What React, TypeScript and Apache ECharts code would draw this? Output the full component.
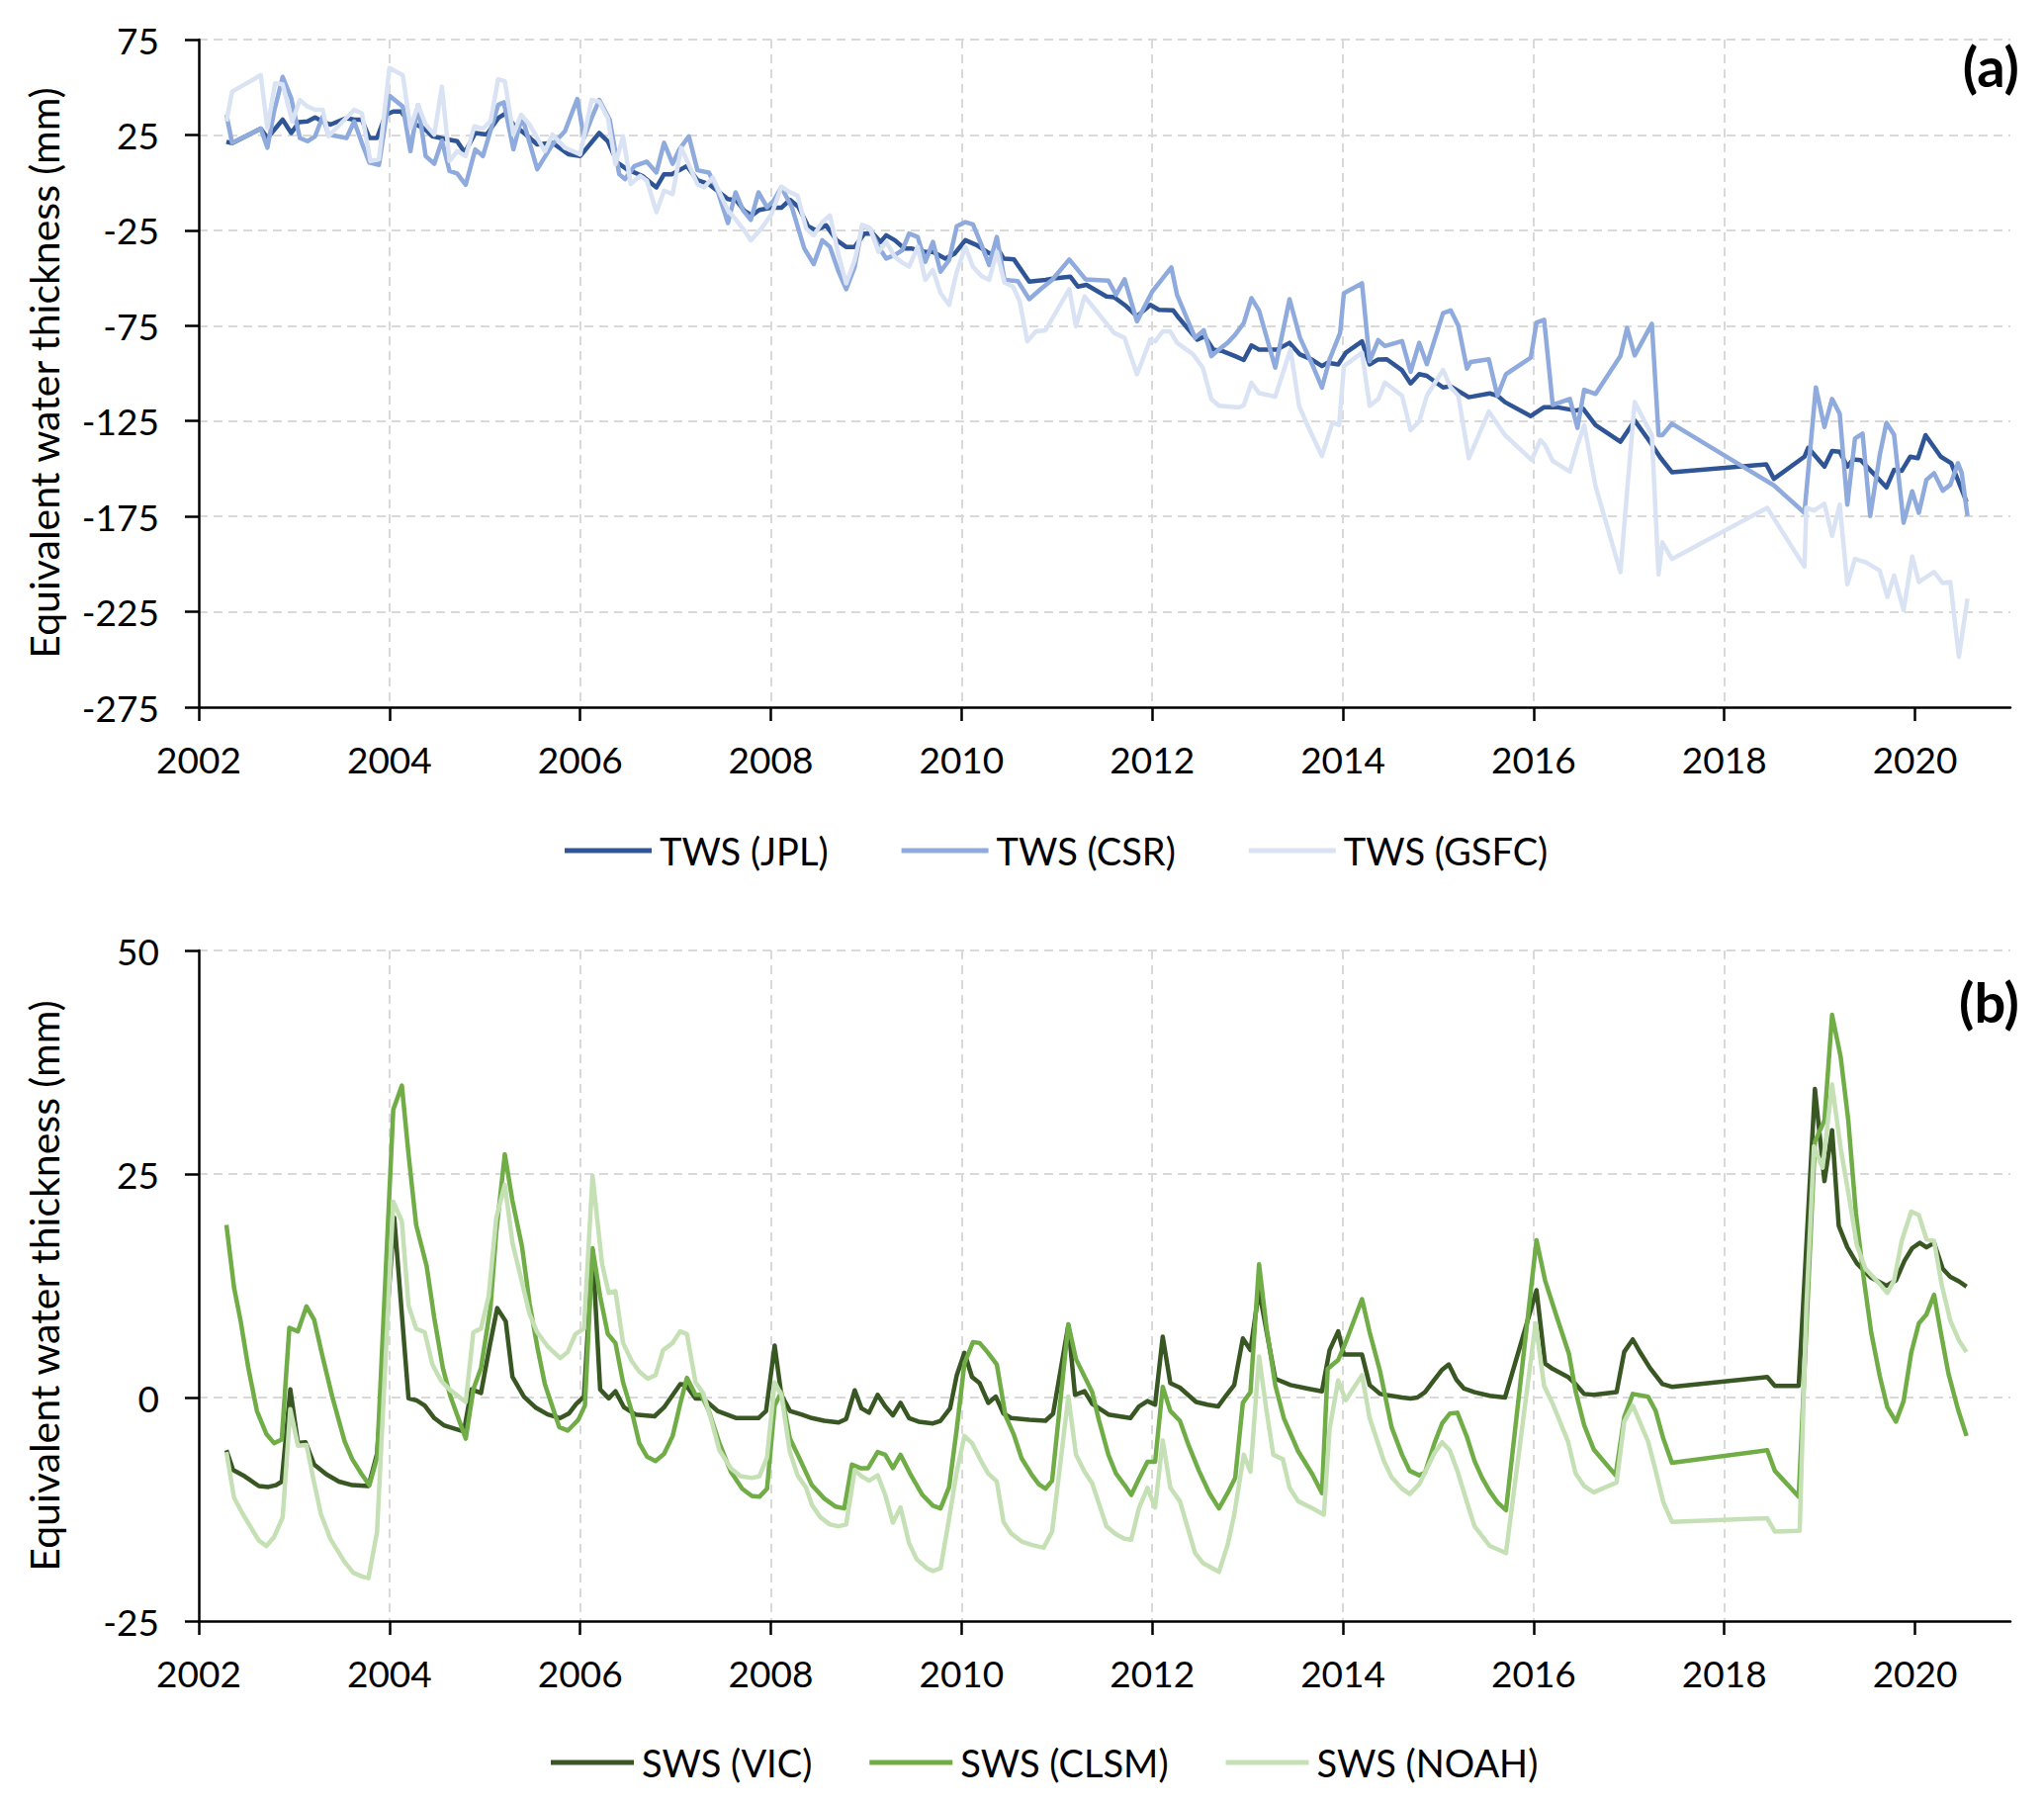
import React, { useEffect, useRef } from "react";
import * as echarts from "echarts";

type P = [number, number];

const YEAR_TICKS = [2002, 2004, 2006, 2008, 2010, 2012, 2014, 2016, 2018, 2020];
const TWS_NAMES = ["TWS (JPL)", "TWS (CSR)", "TWS (GSFC)"];
const SWS_NAMES = ["SWS (VIC)", "SWS (CLSM)", "SWS (NOAH)"];

const TWS_JPL: P[] = [
  [2002.29,21.4],[2002.35,20.7],[2002.65,28.3],[2002.72,23.4],[2002.88,33.0],[2002.97,26.0],[2003.05,31.7],[2003.14,32.1],[2003.22,34.2],[2003.30,32.1],[2003.38,30.4],[2003.55,33.8],[2003.63,33.0],[2003.71,33.0],[2003.79,23.4],[2003.87,23.4],[2003.96,35.6],[2004.04,37.3],[2004.12,37.3],[2004.20,32.1],[2004.36,28.6],[2004.45,24.3],[2004.61,22.6],[2004.71,21.7],[2004.79,15.7],[2004.90,26.0],[2005.02,25.2],[2005.14,33.8],[2005.22,36.4],[2005.30,30.4],[2005.43,25.2],[2005.55,20.0],[2005.71,20.8],[2005.88,14.8],[2006.00,13.9],[2006.20,26.0],[2006.29,21.7],[2006.39,10.5],[2006.49,7.0],[2006.65,3.6],[2006.80,-2.5],[2006.88,4.4],[2006.96,4.4],[2007.12,8.7],[2007.23,1.3],[2007.35,-0.8],[2007.55,-8.6],[2007.64,-9.4],[2007.72,-14.6],[2007.80,-17.2],[2007.88,-14.3],
  [2008.00,-13.2],[2008.11,-13.2],[2008.20,-9.0],[2008.29,-12.8],[2008.39,-22.9],[2008.47,-25.0],[2008.58,-22.4],[2008.69,-30.2],[2008.79,-33.7],[2008.88,-33.7],[2008.98,-26.7],[2009.07,-26.7],[2009.15,-31.1],[2009.21,-27.6],[2009.30,-30.2],[2009.40,-34.5],[2009.47,-34.5],[2009.62,-36.3],[2009.70,-36.3],[2009.83,-39.8],[2009.93,-37.1],[2010.04,-30.2],[2010.16,-32.8],[2010.29,-37.1],[2010.40,-36.3],[2010.44,-39.8],[2010.55,-40.3],[2010.71,-51.9],[2010.88,-51.0],[2010.97,-50.2],[2011.14,-49.3],[2011.22,-54.5],[2011.31,-53.6],[2011.52,-59.7],[2011.60,-60.1],[2011.73,-64.9],[2011.84,-70.1],[2011.98,-64.1],[2012.07,-66.7],[2012.22,-67.0],[2012.28,-71.0],[2012.47,-82.3],[2012.55,-80.6],[2012.64,-87.5],[2012.74,-88.4],[2012.87,-91.0],[2012.96,-93.0],[2013.04,-85.4],[2013.12,-87.5],[2013.31,-87.5],[2013.44,-84.0],[2013.55,-90.1],[2013.67,-92.7],[2013.78,-96.2],[2013.84,-94.4],[2013.95,-95.3],[2014.03,-89.2],[2014.20,-83.2],[2014.28,-95.3],[2014.37,-92.7],
  [2014.46,-92.6],[2014.62,-98.4],[2014.71,-105.3],[2014.80,-100.4],[2014.88,-101.3],[2015.05,-107.4],[2015.13,-106.8],[2015.32,-112.5],[2015.54,-110.5],[2015.62,-111.7],[2015.70,-115.1],[2015.97,-122.4],[2016.11,-117.7],[2016.24,-117.7],[2016.44,-119.5],[2016.52,-118.6],[2016.65,-127.2],[2016.91,-135.9],[2017.06,-124.7],[2017.22,-135.9],[2017.33,-144.2],[2017.45,-151.8],[2018.44,-147.7],[2018.52,-155.3],[2018.84,-143.7],[2018.88,-139.0],[2019.05,-148.9],[2019.13,-140.7],[2019.21,-141.1],[2019.29,-148.9],[2019.35,-145.1],[2019.43,-145.5],[2019.56,-152.3],[2019.70,-159.8],[2019.78,-150.6],[2019.86,-151.1],[2019.95,-143.7],[2020.03,-144.5],[2020.11,-132.4],[2020.27,-143.7],[2020.38,-147.1],[2020.54,-167.4],
];

const TWS_CSR: P[] = [
  [2002.29,35.6],[2002.35,20.8],[2002.65,28.3],[2002.72,18.3],[2002.79,37.3],[2002.88,55.4],[2002.97,44.2],[2003.06,23.4],[2003.14,21.7],[2003.22,24.3],[2003.30,34.7],[2003.36,25.2],[2003.55,23.4],[2003.63,32.1],[2003.71,20.9],[2003.79,10.5],[2003.89,9.3],[2004.00,45.6],[2004.14,39.9],[2004.22,16.5],[2004.30,40.7],[2004.38,13.9],[2004.47,9.9],[2004.55,22.0],[2004.63,6.1],[2004.71,4.8],[2004.80,-1.1],[2004.90,17.4],[2004.98,13.9],[2005.14,40.7],[2005.20,42.1],[2005.30,17.4],[2005.39,34.7],[2005.55,7.0],[2005.71,20.0],[2005.84,26.9],[2005.97,43.9],[2006.04,23.4],[2006.12,33.8],[2006.20,43.3],[2006.31,33.0],[2006.41,4.4],[2006.47,1.8],[2006.57,8.7],[2006.70,11.0],[2006.80,5.3],[2006.88,20.9],[2006.97,9.9],[2007.04,17.4],[2007.14,24.3],[2007.23,6.5],[2007.35,5.3],[2007.43,-2.5],[2007.55,-21.2],[2007.63,-5.1],[2007.71,-14.6],[2007.79,-19.5],[2007.87,-5.1],[2007.96,-12.9],
  [2008.03,-9.4],[2008.11,-2.4],[2008.22,-12.8],[2008.35,-34.5],[2008.45,-42.7],[2008.54,-30.2],[2008.62,-33.7],[2008.71,-46.7],[2008.79,-55.9],[2008.88,-44.1],[2008.96,-22.4],[2009.04,-24.1],[2009.13,-33.7],[2009.21,-39.8],[2009.30,-38.0],[2009.38,-35.4],[2009.45,-26.7],[2009.54,-28.5],[2009.62,-41.5],[2009.70,-31.1],[2009.78,-46.7],[2009.87,-40.6],[2009.95,-22.9],[2010.04,-20.7],[2010.12,-21.9],[2010.21,-32.8],[2010.29,-43.2],[2010.37,-28.5],[2010.45,-51.0],[2010.59,-51.6],[2010.71,-61.1],[2010.84,-55.4],[2010.95,-51.0],[2011.13,-40.3],[2011.30,-50.7],[2011.54,-51.4],[2011.62,-58.8],[2011.71,-50.7],[2011.84,-72.7],[2012.00,-57.1],[2012.11,-50.2],[2012.20,-44.4],[2012.26,-58.8],[2012.45,-81.4],[2012.54,-77.4],[2012.62,-91.0],[2012.70,-87.5],[2012.79,-84.0],[2012.87,-79.7],[2012.96,-73.6],[2013.04,-60.6],[2013.12,-67.0],[2013.29,-97.0],[2013.44,-61.1],[2013.55,-81.4],[2013.67,-94.4],[2013.78,-107.5],[2013.86,-92.7],[2013.97,-78.8],[2014.01,-58.0],[2014.20,-52.8],[2014.28,-93.6],[2014.37,-82.6],
  [2014.44,-85.7],[2014.62,-83.1],[2014.71,-99.2],[2014.80,-84.0],[2014.88,-95.2],[2015.05,-68.4],[2015.13,-67.0],[2015.21,-75.0],[2015.30,-97.5],[2015.34,-94.0],[2015.53,-92.6],[2015.62,-111.7],[2015.71,-100.4],[2015.97,-91.8],[2016.03,-73.3],[2016.11,-71.9],[2016.20,-116.5],[2016.38,-113.4],[2016.46,-128.6],[2016.53,-108.6],[2016.65,-110.8],[2016.91,-90.9],[2016.98,-76.2],[2017.06,-90.6],[2017.24,-74.0],[2017.31,-132.4],[2017.35,-132.4],[2017.45,-126.4],[2018.52,-158.7],[2018.84,-173.1],[2018.96,-107.4],[2019.05,-128.1],[2019.13,-113.4],[2019.21,-121.2],[2019.29,-168.8],[2019.37,-134.2],[2019.45,-131.6],[2019.53,-174.8],[2019.63,-142.8],[2019.70,-125.9],[2019.78,-132.1],[2019.88,-178.3],[2019.97,-161.8],[2020.04,-173.1],[2020.12,-155.8],[2020.20,-152.3],[2020.29,-161.5],[2020.37,-158.4],[2020.45,-147.1],[2020.49,-152.3],[2020.55,-174.8],
];

const TWS_GSFC: P[] = [
  [2002.29,32.1],[2002.35,47.7],[2002.65,56.3],[2002.72,28.6],[2002.80,52.0],[2002.88,51.5],[2002.98,32.1],[2003.06,43.3],[2003.14,39.9],[2003.22,38.2],[2003.30,38.2],[2003.36,24.3],[2003.63,38.2],[2003.71,36.4],[2003.80,11.3],[2003.89,12.2],[2004.00,60.1],[2004.14,56.3],[2004.22,28.6],[2004.30,40.7],[2004.38,30.4],[2004.47,25.2],[2004.55,50.3],[2004.63,11.3],[2004.71,16.5],[2004.80,13.9],[2004.89,29.5],[2004.98,28.3],[2005.06,32.1],[2005.14,54.2],[2005.21,53.2],[2005.30,25.2],[2005.38,35.6],[2005.47,30.4],[2005.63,16.5],[2005.71,25.2],[2005.84,18.3],[2006.00,14.8],[2006.12,43.3],[2006.20,42.5],[2006.29,33.8],[2006.37,9.6],[2006.45,24.3],[2006.53,-0.8],[2006.63,3.6],[2006.70,1.0],[2006.80,-15.5],[2006.88,-4.2],[2006.97,-6.0],[2007.06,18.3],[2007.23,-0.8],[2007.30,-2.5],[2007.39,2.7],[2007.47,-6.0],[2007.55,-14.6],[2007.64,-19.8],[2007.72,-25.0],[2007.79,-30.2],[2007.90,-24.1],
  [2008.01,-16.3],[2008.11,-2.1],[2008.20,-5.0],[2008.28,-6.8],[2008.37,-24.1],[2008.45,-27.6],[2008.54,-20.7],[2008.62,-17.2],[2008.71,-38.0],[2008.79,-52.8],[2008.88,-40.6],[2008.96,-22.4],[2009.04,-24.1],[2009.13,-36.3],[2009.21,-31.1],[2009.30,-38.9],[2009.38,-42.0],[2009.45,-44.1],[2009.54,-33.7],[2009.62,-51.0],[2009.70,-45.8],[2009.78,-58.0],[2009.87,-64.1],[2009.95,-46.7],[2010.04,-33.7],[2010.12,-44.1],[2010.21,-49.0],[2010.29,-51.0],[2010.37,-36.3],[2010.45,-52.4],[2010.54,-54.5],[2010.61,-62.3],[2010.69,-83.2],[2010.78,-78.0],[2010.88,-77.4],[2011.13,-55.9],[2011.20,-75.3],[2011.29,-59.7],[2011.60,-78.8],[2011.71,-81.4],[2011.84,-100.5],[2011.98,-82.3],[2012.03,-83.2],[2012.11,-78.0],[2012.19,-78.0],[2012.26,-84.0],[2012.43,-90.1],[2012.53,-97.0],[2012.62,-113.5],[2012.70,-117.0],[2012.91,-117.9],[2012.96,-116.7],[2013.04,-104.9],[2013.12,-110.4],[2013.29,-112.2],[2013.45,-87.5],[2013.54,-117.0],[2013.63,-127.4],[2013.78,-143.4],[2013.89,-125.7],[2013.96,-127.1],[2014.01,-96.2],[2014.20,-89.2],[2014.28,-117.0],[2014.37,-113.5],
  [2014.44,-104.8],[2014.62,-111.7],[2014.71,-129.8],[2014.80,-125.2],[2014.88,-111.7],[2015.05,-98.2],[2015.13,-107.4],[2015.21,-111.7],[2015.32,-144.5],[2015.53,-120.0],[2015.64,-128.1],[2015.70,-132.4],[2015.98,-145.4],[2016.07,-135.0],[2016.12,-137.6],[2016.20,-145.9],[2016.38,-151.5],[2016.46,-137.6],[2016.53,-127.2],[2016.65,-159.3],[2016.91,-204.2],[2016.98,-161.9],[2017.06,-115.1],[2017.24,-132.4],[2017.31,-205.4],[2017.35,-188.6],[2017.45,-197.3],[2018.45,-170.5],[2018.84,-201.3],[2018.86,-170.5],[2018.94,-171.9],[2019.05,-168.4],[2019.13,-185.2],[2019.21,-168.8],[2019.29,-210.6],[2019.37,-197.3],[2019.48,-199.0],[2019.63,-203.4],[2019.71,-217.2],[2019.78,-206.0],[2019.88,-224.1],[2019.97,-196.1],[2020.04,-209.4],[2020.20,-204.2],[2020.29,-209.9],[2020.37,-209.4],[2020.46,-248.7],[2020.55,-218.1],
];

const SWS_VIC: P[] = [
  [2002.29,-5.9],[2002.36,-8.1],[2002.48,-8.8],[2002.63,-9.9],[2002.73,-10.0],[2002.81,-9.8],[2002.87,-9.4],[2002.96,0.9],[2003.04,-5.1],[2003.12,-5.0],[2003.21,-7.5],[2003.34,-8.6],[2003.47,-9.4],[2003.61,-9.8],[2003.78,-9.9],[2003.87,-6.3],[2004.05,20.1],[2004.20,-0.1],[2004.28,-0.3],[2004.37,-0.9],[2004.47,-2.3],[2004.57,-3.1],[2004.78,-3.8],[2004.86,0.9],[2004.96,0.5],[2005.05,5.7],[2005.13,10.0],[2005.22,8.5],[2005.29,2.3],[2005.41,0.1],[2005.53,-1.1],[2005.66,-1.9],[2005.79,-2.3],[2005.88,-1.8],[2005.96,-0.7],[2006.04,0.1],[2006.13,16.5],[2006.21,0.9],[2006.30,-0.1],[2006.37,0.7],[2006.46,-1.1],[2006.58,-1.9],[2006.78,-2.1],[2006.88,-1.1],[2007.05,1.5],[2007.11,1.4],[2007.21,-0.1],[2007.29,-0.1],[2007.44,-1.5],[2007.64,-2.3],[2007.87,-2.3],[2007.95,-1.5],
  [2008.04,5.8],[2008.11,0.3],[2008.20,-1.5],[2008.32,-1.9],[2008.43,-2.3],[2008.56,-2.6],[2008.71,-2.8],[2008.79,-2.4],[2008.88,0.8],[2008.95,-1.2],[2009.03,-1.7],[2009.12,0.3],[2009.20,-1.0],[2009.28,-2.0],[2009.36,-0.6],[2009.45,-2.3],[2009.55,-2.7],[2009.70,-2.9],[2009.78,-2.6],[2009.88,-1.2],[2009.95,2.5],[2010.03,5.0],[2010.11,2.3],[2010.19,1.6],[2010.28,-0.6],[2010.36,0.1],[2010.44,-1.8],[2010.52,-2.3],[2010.71,-2.5],[2010.88,-2.6],[2010.96,-1.8],[2011.12,8.1],[2011.19,0.3],[2011.29,0.7],[2011.37,-0.7],[2011.54,-1.9],[2011.77,-2.3],[2011.86,-1.0],[2011.95,-0.4],[2012.03,-0.8],[2012.11,6.8],[2012.19,1.6],[2012.29,1.1],[2012.46,-0.5],[2012.58,-0.8],[2012.69,-1.0],[2012.78,0.3],[2012.86,1.4],[2012.95,6.6],[2013.03,5.3],[2013.12,12.0],[2013.29,2.1],[2013.45,1.4],[2013.63,1.0],[2013.78,0.7],[2013.86,5.3],[2013.95,7.4],[2014.01,4.8],[2014.20,4.8],[2014.28,1.4],[2014.39,0.4],
  [2014.62,0.0],[2014.71,-0.1],[2014.78,0.0],[2014.86,0.6],[2014.96,2.0],[2015.04,3.1],[2015.11,3.7],[2015.19,2.0],[2015.27,1.0],[2015.38,0.6],[2015.54,0.2],[2015.70,0.0],[2016.03,12.0],[2016.12,3.8],[2016.20,3.2],[2016.36,2.3],[2016.44,1.5],[2016.53,0.4],[2016.63,0.3],[2016.87,0.6],[2016.95,5.1],[2017.04,6.5],[2017.12,5.0],[2017.22,3.3],[2017.35,1.5],[2017.45,1.2],[2018.45,2.3],[2018.53,1.3],[2018.78,1.3],[2018.95,34.5],[2019.05,24.2],[2019.13,29.9],[2019.20,19.2],[2019.29,16.8],[2019.39,15.0],[2019.54,13.4],[2019.70,12.5],[2019.80,13.1],[2019.89,15.3],[2019.97,16.7],[2020.05,17.3],[2020.12,16.8],[2020.20,17.3],[2020.29,14.4],[2020.37,13.5],[2020.46,13.0],[2020.54,12.4],
];

const SWS_CLSM: P[] = [
  [2002.29,19.3],[2002.37,12.3],[2002.44,8.5],[2002.52,3.3],[2002.61,-1.5],[2002.71,-4.1],[2002.79,-5.1],[2002.87,-4.7],[2002.95,7.8],[2003.04,7.4],[2003.13,10.2],[2003.21,8.7],[2003.30,4.5],[2003.40,0.1],[2003.53,-4.9],[2003.61,-6.9],[2003.71,-8.6],[2003.79,-9.8],[2003.87,-6.7],[2004.04,32.2],[2004.13,34.9],[2004.20,27.2],[2004.28,19.3],[2004.39,14.7],[2004.47,8.9],[2004.56,3.3],[2004.64,0.1],[2004.80,-4.6],[2004.88,0.9],[2004.96,3.3],[2005.06,10.1],[2005.12,18.5],[2005.21,27.2],[2005.29,22.0],[2005.39,16.9],[2005.47,10.5],[2005.55,5.7],[2005.63,1.5],[2005.78,-3.3],[2005.87,-3.7],[2005.98,-2.5],[2006.05,-0.9],[2006.13,16.7],[2006.21,11.3],[2006.29,7.1],[2006.37,6.1],[2006.45,1.7],[2006.54,-1.5],[2006.62,-5.1],[2006.70,-6.6],[2006.79,-7.1],[2006.88,-6.3],[2006.97,-4.3],[2007.05,-0.7],[2007.12,2.2],[2007.21,0.3],[2007.27,0.3],[2007.35,-1.5],[2007.46,-5.1],[2007.58,-8.3],[2007.70,-10.2],[2007.80,-11.0],[2007.88,-11.1],[2007.96,-10.2],
  [2008.04,-0.9],[2008.11,0.6],[2008.20,-4.6],[2008.30,-6.8],[2008.43,-9.8],[2008.56,-11.3],[2008.68,-12.2],[2008.77,-12.4],[2008.85,-7.5],[2008.94,-7.9],[2009.02,-7.9],[2009.12,-6.1],[2009.20,-6.4],[2009.28,-7.9],[2009.36,-6.4],[2009.47,-8.7],[2009.59,-10.9],[2009.70,-12.1],[2009.78,-12.4],[2009.87,-10.0],[2009.95,-3.5],[2010.03,3.8],[2010.12,6.2],[2010.19,6.1],[2010.27,5.1],[2010.37,3.7],[2010.46,-2.0],[2010.55,-4.2],[2010.63,-6.8],[2010.74,-8.7],[2010.81,-9.7],[2010.88,-10.2],[2010.95,-9.3],[2011.12,8.2],[2011.20,4.3],[2011.37,0.6],[2011.44,-2.5],[2011.54,-6.4],[2011.62,-8.5],[2011.71,-9.8],[2011.78,-10.9],[2011.86,-9.1],[2011.95,-7.2],[2012.03,-7.2],[2012.11,1.2],[2012.19,-1.5],[2012.29,-2.6],[2012.38,-5.3],[2012.49,-8.2],[2012.60,-10.7],[2012.70,-12.4],[2012.79,-10.7],[2012.87,-9.0],[2012.95,-0.6],[2013.03,0.6],[2013.12,14.9],[2013.20,7.7],[2013.29,1.4],[2013.38,-2.3],[2013.53,-6.0],[2013.68,-8.6],[2013.78,-10.7],[2013.84,3.2],[2013.95,4.2],[2014.03,6.2],[2014.20,11.0],[2014.28,7.3],[2014.39,2.9],
  [2014.51,-3.3],[2014.62,-6.4],[2014.70,-8.2],[2014.80,-8.7],[2014.86,-8.4],[2014.96,-5.1],[2015.04,-2.9],[2015.12,-1.8],[2015.20,-1.7],[2015.30,-4.4],[2015.38,-7.1],[2015.46,-9.0],[2015.54,-10.5],[2015.62,-11.7],[2015.71,-12.6],[2016.03,17.6],[2016.12,13.1],[2016.24,9.1],[2016.37,4.9],[2016.44,0.7],[2016.53,-3.1],[2016.63,-5.8],[2016.86,-8.7],[2016.95,-2.2],[2017.04,0.4],[2017.20,0.1],[2017.28,-1.5],[2017.36,-4.6],[2017.45,-7.3],[2018.45,-5.9],[2018.53,-8.2],[2018.78,-11.1],[2018.95,28.6],[2019.05,31.0],[2019.13,42.8],[2019.22,38.1],[2019.30,31.0],[2019.38,20.6],[2019.46,13.5],[2019.54,7.3],[2019.63,2.4],[2019.71,-1.1],[2019.80,-2.7],[2019.88,-0.4],[2019.96,5.0],[2020.04,8.3],[2020.12,9.3],[2020.20,11.5],[2020.27,7.3],[2020.35,2.7],[2020.45,-1.3],[2020.54,-4.3],
];

const SWS_NOAH: P[] = [
  [2002.29,-6.1],[2002.37,-11.2],[2002.46,-13.0],[2002.63,-16.0],[2002.71,-16.6],[2002.79,-15.6],[2002.88,-13.4],[2002.96,-1.3],[2003.04,-5.4],[2003.13,-5.3],[2003.20,-9.0],[2003.28,-13.0],[2003.38,-15.8],[2003.53,-18.4],[2003.62,-19.6],[2003.71,-20.0],[2003.78,-20.2],[2003.87,-15.0],[2004.04,21.9],[2004.13,19.7],[2004.20,10.3],[2004.28,7.7],[2004.37,7.3],[2004.45,3.7],[2004.54,1.9],[2004.63,0.9],[2004.80,-0.5],[2004.88,7.3],[2004.96,7.7],[2005.04,11.3],[2005.12,20.1],[2005.21,23.8],[2005.29,17.3],[2005.39,12.9],[2005.47,9.3],[2005.55,7.3],[2005.66,5.7],[2005.79,4.4],[2005.87,5.1],[2005.95,7.1],[2006.04,7.7],[2006.13,24.8],[2006.23,14.9],[2006.30,11.7],[2006.37,11.9],[2006.45,6.1],[2006.54,4.1],[2006.62,2.9],[2006.71,2.1],[2006.79,2.5],[2006.87,5.3],[2006.97,6.1],[2007.05,7.4],[2007.12,7.1],[2007.21,1.7],[2007.29,0.5],[2007.37,-2.3],[2007.46,-5.9],[2007.58,-7.9],[2007.68,-8.8],[2007.80,-9.0],[2007.88,-8.8],[2007.96,-6.7],
  [2008.04,1.7],[2008.11,0.3],[2008.20,-6.1],[2008.28,-8.7],[2008.37,-10.1],[2008.43,-12.0],[2008.52,-13.4],[2008.62,-14.2],[2008.71,-14.4],[2008.79,-14.2],[2008.88,-8.1],[2008.95,-8.8],[2009.03,-9.3],[2009.12,-8.7],[2009.20,-10.9],[2009.28,-14.0],[2009.36,-12.3],[2009.45,-16.3],[2009.53,-18.1],[2009.64,-19.1],[2009.70,-19.4],[2009.78,-19.1],[2009.87,-13.5],[2009.95,-8.3],[2010.03,-4.3],[2010.11,-5.1],[2010.20,-7.0],[2010.28,-8.5],[2010.37,-9.4],[2010.44,-13.9],[2010.52,-15.2],[2010.63,-16.1],[2010.74,-16.5],[2010.86,-16.8],[2010.95,-15.0],[2011.12,0.1],[2011.20,-6.4],[2011.29,-8.3],[2011.37,-9.6],[2011.52,-14.4],[2011.62,-15.3],[2011.71,-15.8],[2011.78,-15.9],[2011.86,-12.4],[2011.95,-10.1],[2012.03,-12.3],[2012.11,-4.8],[2012.19,-10.1],[2012.29,-11.6],[2012.45,-17.4],[2012.53,-18.5],[2012.70,-19.5],[2012.79,-16.5],[2012.86,-13.1],[2012.96,-6.4],[2013.03,-8.3],[2013.12,4.6],[2013.20,-1.6],[2013.27,-6.4],[2013.37,-6.9],[2013.44,-10.1],[2013.53,-11.6],[2013.68,-12.4],[2013.80,-13.1],[2013.86,-3.5],[2013.95,1.9],[2014.03,-0.3],[2014.20,2.5],[2014.28,-2.3],
  [2014.43,-7.1],[2014.51,-8.9],[2014.62,-10.2],[2014.70,-10.8],[2014.80,-9.7],[2014.86,-8.4],[2014.96,-6.2],[2015.04,-5.0],[2015.12,-5.9],[2015.20,-8.2],[2015.30,-11.7],[2015.38,-14.4],[2015.54,-16.6],[2015.71,-17.4],[2016.02,8.3],[2016.11,1.3],[2016.20,-0.7],[2016.36,-4.9],[2016.44,-8.5],[2016.53,-9.9],[2016.63,-10.6],[2016.87,-9.5],[2016.95,-2.7],[2017.04,-0.9],[2017.20,-4.9],[2017.28,-8.2],[2017.36,-11.7],[2017.45,-13.9],[2018.45,-13.5],[2018.53,-15.0],[2018.79,-14.9],[2018.86,10.0],[2018.94,28.1],[2019.03,25.7],[2019.13,35.0],[2019.22,27.9],[2019.31,22.3],[2019.39,17.0],[2019.48,14.4],[2019.62,12.8],[2019.71,11.7],[2019.78,13.1],[2019.86,17.5],[2019.96,20.8],[2020.04,20.4],[2020.12,17.7],[2020.20,17.5],[2020.28,12.6],[2020.37,8.6],[2020.46,6.4],[2020.54,5.1],
];

const TWS_COLORS = ["#2F5597", "#8FAADC", "#DAE3F3"];
const SWS_COLORS = ["#385723", "#70AD47", "#C5E0B4"];

const FONT = 'Lato, "Open Sans", "DejaVu Sans", sans-serif';

function xAxisCfg(gridIndex: number) {
  return {
    type: "value",
    gridIndex,
    min: 2002,
    max: 2021,
    interval: 2,
    axisLine: { show: true, onZero: false, lineStyle: { color: "#000", width: 2.5 } },
    axisTick: { show: true, inside: false, length: 14, customValues: YEAR_TICKS, lineStyle: { color: "#000", width: 2.5 } },
    axisLabel: {
      customValues: YEAR_TICKS,
      formatter: (v: number) => (v % 2 === 0 && v <= 2020 ? String(v) : ""),
      fontSize: 37,
      color: "#000",
      fontFamily: FONT,
      margin: 34,
    },
    splitLine: {
      show: true,
      showMinLine: false,
      showMaxLine: false,
      lineStyle: { type: [9, 6], color: "#D9D9D9", width: 2 },
    },
  };
}

function yAxisCfg(gridIndex: number, min: number, max: number, interval: number) {
  return {
    type: "value",
    gridIndex,
    min,
    max,
    interval,
    axisLine: { show: true, onZero: false, lineStyle: { color: "#000", width: 2.5 } },
    axisTick: { show: true, inside: false, length: 14, lineStyle: { color: "#000", width: 2.5 } },
    axisLabel: { fontSize: 37, color: "#000", fontFamily: FONT, margin: 40 },
    splitLine: {
      show: true,
      showMinLine: false,
      lineStyle: { type: [9, 6], color: "#D9D9D9", width: 2 },
    },
  };
}

function lineSeries(name: string, data: P[], color: string, axisIndex: number) {
  return {
    name,
    type: "line",
    xAxisIndex: axisIndex,
    yAxisIndex: axisIndex,
    data,
    symbol: "none",
    showSymbol: false,
    lineStyle: { color, width: 4.5, join: "round" },
    itemStyle: { color },
  };
}

function yTitle(y: number) {
  return {
    type: "text",
    x: 44,
    y,
    rotation: Math.PI / 2,
    style: {
      text: "Equivalent water thickness (mm)",
      fontSize: 41,
      fontFamily: FONT,
      fill: "#000",
      align: "center",
      verticalAlign: "middle",
    },
  };
}

export default function App() {
  const ref = useRef<HTMLDivElement>(null);
  useEffect(() => {
    document.body.style.margin = "0";
    const chart = echarts.init(ref.current as HTMLDivElement, null, { renderer: "svg" });
    const legendText = { fontSize: 38, color: "#000", fontFamily: FONT, padding: [0, 0, 0, 3] };
    const option: any = {
      animation: false,
      backgroundColor: "#fff",
      grid: [
        { left: 201, top: 40, width: 1832, height: 675 },
        { left: 201, top: 961, width: 1832, height: 678 },
      ],
      xAxis: [xAxisCfg(0), xAxisCfg(1)],
      yAxis: [yAxisCfg(0, -275, 75, 50), yAxisCfg(1, -25, 50, 25)],
      legend: [
        {
          data: TWS_NAMES,
          icon: "rect",
          left: 566,
          top: 836,
          itemWidth: 88,
          itemHeight: 5,
          itemGap: 74,
          textStyle: legendText,
        },
        {
          data: SWS_NAMES,
          icon: "rect",
          left: 552,
          top: 1758,
          itemWidth: 84,
          itemHeight: 5,
          itemGap: 58,
          textStyle: legendText,
        },
      ],
      graphic: [
        yTitle(377),
        yTitle(1300),
        {
          type: "text",
          x: 2042,
          y: 66,
          style: { text: "(a)", fontSize: 56, fontWeight: "bold", fontFamily: FONT, fill: "#000", align: "right", verticalAlign: "middle" },
        },
        {
          type: "text",
          x: 2042,
          y: 1012,
          style: { text: "(b)", fontSize: 56, fontWeight: "bold", fontFamily: FONT, fill: "#000", align: "right", verticalAlign: "middle" },
        },
      ],
      series: [
        lineSeries(TWS_NAMES[0], TWS_JPL, TWS_COLORS[0], 0),
        lineSeries(TWS_NAMES[1], TWS_CSR, TWS_COLORS[1], 0),
        lineSeries(TWS_NAMES[2], TWS_GSFC, TWS_COLORS[2], 0),
        lineSeries(SWS_NAMES[0], SWS_VIC, SWS_COLORS[0], 1),
        lineSeries(SWS_NAMES[1], SWS_CLSM, SWS_COLORS[1], 1),
        lineSeries(SWS_NAMES[2], SWS_NOAH, SWS_COLORS[2], 1),
      ],
    };
    chart.setOption(option);
    return () => chart.dispose();
  }, []);
  return <div ref={ref} style={{ width: 2067, height: 1825 }} />;
}
